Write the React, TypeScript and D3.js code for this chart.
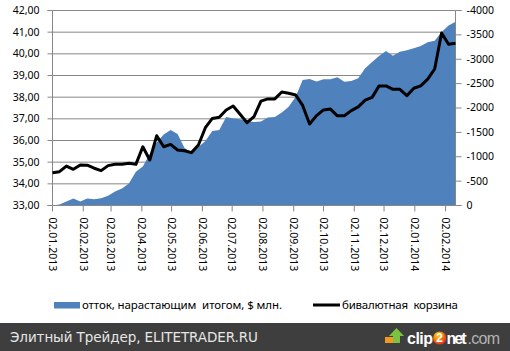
import React, { useEffect, useRef } from "react";
import * as d3 from "d3";

// weekly observation dates
const weeks = [
  "02.01.2013", "09.01.2013", "16.01.2013", "23.01.2013", "30.01.2013",
  "06.02.2013", "13.02.2013", "20.02.2013", "27.02.2013",
  "06.03.2013", "13.03.2013", "20.03.2013", "27.03.2013",
  "03.04.2013", "10.04.2013", "17.04.2013", "24.04.2013",
  "01.05.2013", "08.05.2013", "15.05.2013", "22.05.2013", "29.05.2013",
  "05.06.2013", "12.06.2013", "19.06.2013", "26.06.2013",
  "03.07.2013", "10.07.2013", "17.07.2013", "24.07.2013", "31.07.2013",
  "07.08.2013", "14.08.2013", "21.08.2013", "28.08.2013",
  "04.09.2013", "11.09.2013", "18.09.2013", "25.09.2013",
  "02.10.2013", "09.10.2013", "16.10.2013", "23.10.2013", "30.10.2013",
  "06.11.2013", "13.11.2013", "20.11.2013", "27.11.2013",
  "04.12.2013", "11.12.2013", "18.12.2013", "25.12.2013",
  "01.01.2014", "08.01.2014", "15.01.2014", "22.01.2014", "29.01.2014",
  "05.02.2014", "12.02.2014"
];

// cumulative outflow, $ mln (right axis)
const outflow = [
  0, -20, -82, -144, -82, -144, -130, -148, -200, -287,
  -349, -451, -693, -800, -1056, -1292, -1456, -1548, -1466, -1179,
  -1087, -1200, -1323, -1528, -1548, -1815, -1784, -1768, -1733, -1712,
  -1723, -1805, -1815, -1907, -2026, -2231, -2574, -2594, -2543, -2590,
  -2588, -2629, -2539, -2553, -2609, -2814, -2943, -3066, -3169, -3072,
  -3154, -3183, -3224, -3271, -3347, -3380, -3558, -3692, -3770
];

// dual-currency basket, rub (left axis)
const basket = [
  34.51, 34.56, 34.82, 34.67, 34.87, 34.86, 34.72, 34.61, 34.84, 34.90,
  34.90, 34.95, 34.90, 35.71, 35.10, 36.22, 35.71, 35.82, 35.56, 35.53,
  35.44, 35.79, 36.59, 37.02, 37.07, 37.41, 37.59, 37.21, 36.82, 37.10,
  37.82, 37.92, 37.92, 38.24, 38.18, 38.10, 37.62, 36.76, 37.15, 37.41,
  37.45, 37.14, 37.14, 37.38, 37.55, 37.86, 37.99, 38.52, 38.52, 38.36,
  38.36, 38.07, 38.41, 38.52, 38.83, 39.30, 40.96, 40.44, 40.49
];

const xTickLabels = [
  "02.01.2013", "02.02.2013", "02.03.2013", "02.04.2013", "02.05.2013",
  "02.06.2013", "02.07.2013", "02.08.2013", "02.09.2013", "02.10.2013",
  "02.11.2013", "02.12.2013", "02.01.2014", "02.02.2014"
];
const leftTicks = [33, 34, 35, 36, 37, 38, 39, 40, 41, 42];
const rightTicks = [0, -500, -1000, -1500, -2000, -2500, -3000, -3500, -4000];

const seriesNames = ["отток, нарастающим  итогом, $ млн.", "бивалютная  корзина"];

const W = 510;
const H = 351;
const FONT = "'Noto Sans', sans-serif";
const LOGO_FONT = "'Liberation Sans', Arial, sans-serif";

export default function App() {
  const ref = useRef<SVGSVGElement>(null);

  useEffect(() => {
    const svg = d3.select(ref.current);
    svg.selectAll("*").remove();

    const parse = d3.timeParse("%d.%m.%Y");
    const data = weeks.map((w, i) => ({
      date: parse(w) as Date,
      outflow: outflow[i],
      basket: basket[i]
    }));

    const left = 52.5, right = 455.5, top = 10.5, bottom = 205.5;

    const x = d3.scaleTime()
      .domain([data[0].date, data[data.length - 1].date])
      .range([left, right]);
    const yL = d3.scaleLinear().domain([33, 42]).range([bottom, top]);
    const yR = d3.scaleLinear().domain([0, -4000]).range([bottom, top]);

    svg.append("rect").attr("width", W).attr("height", H).attr("fill", "#fff");

    // gridlines
    svg.append("g")
      .selectAll("line")
      .data(leftTicks)
      .join("line")
      .attr("x1", left)
      .attr("x2", right)
      .attr("y1", (d) => yL(d))
      .attr("y2", (d) => yL(d))
      .attr("stroke", "#878787");

    // area
    const area = d3.area<any>()
      .x((d) => x(d.date))
      .y0(yR(0))
      .y1((d) => yR(d.outflow));
    svg.append("path")
      .datum(data)
      .attr("d", area)
      .attr("fill", "#4f81bd");

    const styleAxis = (g: any) => {
      g.selectAll(".domain").attr("stroke", "#878787");
      g.selectAll(".tick line").attr("stroke", "#878787");
      g.selectAll("text")
        .attr("fill", "#000")
        .style("font-family", FONT)
        .style("font-size", "10.5px");
    };

    // left axis
    svg.append("g")
      .attr("transform", `translate(${left},0)`)
      .call(
        d3.axisLeft(yL)
          .tickValues(leftTicks)
          .tickFormat((d: any) => d3.format(".2f")(d).replace(".", ","))
          .tickSize(5)
          .tickPadding(8)
          .offset(0)
      )
      .call(styleAxis);

    // right axis
    svg.append("g")
      .attr("transform", `translate(${right},0)`)
      .call(
        d3.axisRight(yR)
          .tickValues(rightTicks)
          .tickFormat((d: any) => String(d))
          .tickSize(6)
          .tickPadding(5)
          .offset(0)
      )
      .call(styleAxis);

    // bottom axis
    const xTicks = xTickLabels.map((s) => parse(s) as Date);
    const gx = svg.append("g")
      .attr("transform", `translate(0,${bottom})`)
      .call(
        d3.axisBottom(x)
          .tickValues(xTicks)
          .tickFormat(d3.timeFormat("%d.%m.%Y") as any)
          .tickSize(6)
          .tickSizeOuter(0)
          .offset(0)
      )
      .call(styleAxis);
    gx.selectAll(".tick text")
      .attr("transform", "translate(0,12) rotate(90)")
      .attr("x", 0)
      .attr("y", 0)
      .attr("dy", "0.35em")
      .attr("text-anchor", "start");

    // basket line
    const line = d3.line<any>()
      .x((d) => x(d.date))
      .y((d) => yL(d.basket));
    svg.append("path")
      .datum(data)
      .attr("d", line)
      .attr("fill", "none")
      .attr("stroke", "#000")
      .attr("stroke-width", 3)
      .attr("stroke-linejoin", "round");

    // legend
    const lg = svg.append("g").style("font-family", FONT).style("font-size", "11.5px");
    lg.append("rect")
      .attr("x", 54).attr("y", 302).attr("width", 26).attr("height", 6.5)
      .attr("fill", "#4f81bd");
    lg.append("text")
      .attr("x", 82).attr("y", 309)
      .style("white-space", "pre")
      .attr("textLength", 200)
      .text(seriesNames[0]);
    lg.append("line")
      .attr("x1", 313).attr("x2", 340).attr("y1", 305).attr("y2", 305)
      .attr("stroke", "#000").attr("stroke-width", 3);
    lg.append("text")
      .attr("x", 342).attr("y", 309)
      .style("white-space", "pre")
      .attr("textLength", 116)
      .text(seriesNames[1]);

    // footer band
    svg.append("rect")
      .attr("x", 0).attr("y", 323).attr("width", W).attr("height", H - 323)
      .attr("fill", "#3e3e3e");
    svg.append("text")
      .attr("x", 10).attr("y", 342)
      .attr("fill", "#e6e6e6")
      .attr("textLength", 248)
      .style("font-family", "'DejaVu Sans', sans-serif")
      .style("font-size", "13.5px")
      .text("Элитный Трейдер, ELITETRADER.RU");

    // clip2net mark
    const defs = svg.append("defs");
    const grad = defs.append("radialGradient")
      .attr("id", "c2").attr("cx", "35%").attr("cy", "30%").attr("r", "70%");
    grad.append("stop").attr("offset", "0%").attr("stop-color", "#ffd200");
    grad.append("stop").attr("offset", "100%").attr("stop-color", "#e8341c");

    const logo = svg.append("g").style("font-family", LOGO_FONT);
    logo.append("rect")
      .attr("x", 385).attr("y", 337).attr("width", 10).attr("height", 6)
      .attr("fill", "#f29a1f");
    logo.append("path")
      .attr("d", "M396.5,328 L404,336 L400,336 L400,343 L393,343 L393,336 L389,336 Z")
      .attr("fill", "#7cc242");
    logo.append("text")
      .attr("x", 407).attr("y", 343.5)
      .attr("fill", "#fff")
      .attr("textLength", 26)
      .style("font-weight", "bold")
      .style("font-size", "16px")
      .text("clip");
    logo.append("circle")
      .attr("cx", 439.7).attr("cy", 338).attr("r", 6.6)
      .attr("fill", "url(#c2)");
    logo.append("text")
      .attr("x", 439.7).attr("y", 342.3)
      .attr("text-anchor", "middle")
      .attr("fill", "#fff")
      .style("font-weight", "bold")
      .style("font-size", "12px")
      .text("2");
    logo.append("text")
      .attr("x", 446.5).attr("y", 343.5)
      .attr("fill", "#fff")
      .attr("textLength", 20)
      .style("font-weight", "bold")
      .style("font-size", "16px")
      .text("net");
    logo.append("text")
      .attr("x", 467.5).attr("y", 343.5)
      .attr("fill", "#b4b4b4")
      .attr("textLength", 32.5)
      .style("font-size", "16px")
      .text(".com");
  }, []);

  return (
    <svg
      ref={ref}
      width={W}
      height={H}
      style={{ position: "absolute", left: 0, top: 0, display: "block" }}
    />
  );
}
